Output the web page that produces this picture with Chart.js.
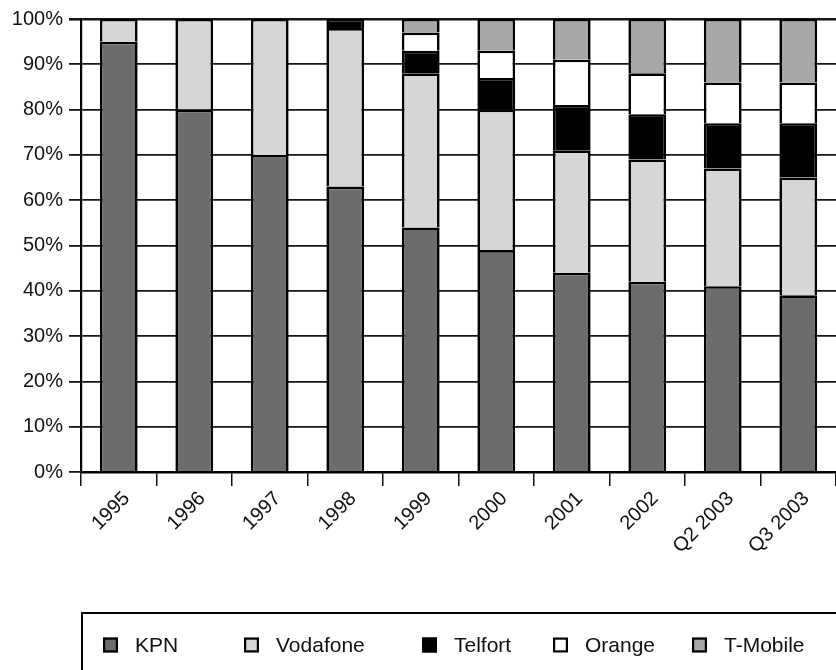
<!DOCTYPE html>
<html>
<head>
<meta charset="utf-8">
<script src="https://cdn.jsdelivr.net/npm/chart.js@4/dist/chart.umd.min.js"></script>
<style>
  html, body { margin: 0; padding: 0; background: #fff; }
  #wrap { width: 836px; height: 670px; position: relative; }
</style>
</head>
<body>
<div id="wrap"><canvas id="c" width="836" height="670"></canvas></div>
<script>
const categories = ['1995', '1996', '1997', '1998', '1999', '2000', '2001', '2002', 'Q2 2003', 'Q3 2003'];
const kpn      = [95, 80, 70, 63, 54, 49, 44, 42, 41, 39];
const vodafone = [5, 20, 30, 35, 34, 31, 27, 27, 26, 26];
const telfort  = [0, 0, 0, 2, 5, 7, 10, 10, 10, 12];
const orange   = [0, 0, 0, 0, 4, 6, 10, 9, 9, 9];
const tmobile  = [0, 0, 0, 0, 3, 7, 9, 12, 14, 14];
const yTicks   = [0, 10, 20, 30, 40, 50, 60, 70, 80, 90, 100];

const seriesNames  = ['KPN', 'Vodafone', 'Telfort', 'Orange', 'T-Mobile'];
const seriesColors = ['#6b6c6e', '#d5d6d8', '#000000', '#ffffff', '#a7a8aa'];
const seriesData   = [kpn, vodafone, telfort, orange, tmobile];

const FONT = "'Liberation Sans', Arial, Helvetica, sans-serif";

const legendPlugin = {
  id: 'boxLegend',
  afterDraw(chart) {
    const ctx = chart.ctx;
    const area = chart.chartArea;
    const boxTop = 613;
    // legend column starts, relative to the plot's left edge (layout style)
    const columns = [22, 163, 341, 472, 611];
    ctx.save();
    ctx.lineWidth = 2;
    ctx.strokeStyle = '#000';
    ctx.strokeRect(area.left + 1, boxTop, chart.width + 20, 120);
    ctx.font = '21px ' + FONT;
    ctx.textBaseline = 'middle';
    ctx.textAlign = 'left';
    const sq = 15, gapText = 17;
    const cy = 645;
    seriesNames.forEach((n, i) => {
      const x = area.left + columns[i];
      ctx.fillStyle = seriesColors[i];
      ctx.fillRect(x, cy - sq / 2, sq, sq);
      ctx.lineWidth = 2.2;
      ctx.strokeStyle = '#000';
      ctx.strokeRect(x + 1.1, cy - sq / 2 + 1.1, sq - 2.2, sq - 2.2);
      ctx.fillStyle = '#111';
      ctx.fillText(n, x + sq + gapText, cy + 1);
    });
    ctx.restore();
  }
};

new Chart(document.getElementById('c'), {
  type: 'bar',
  data: {
    labels: categories,
    datasets: seriesNames.map((n, i) => ({
      label: n,
      data: seriesData[i],
      backgroundColor: seriesColors[i],
      borderColor: '#000',
      borderWidth: 2.6,
      borderSkipped: 'start',
      barPercentage: 0.5,
      categoryPercentage: 1.0
    }))
  },
  options: {
    responsive: false,
    animation: false,
    layout: { padding: { top: 19, right: 0, bottom: 0, left: 0 } },
    plugins: { legend: { display: false }, tooltip: { enabled: false } },
    scales: {
      x: {
        stacked: true,
        offset: true,
        border: { display: true, color: '#000', width: 2.5 },
        grid: { display: true, drawOnChartArea: false, drawTicks: true, tickLength: 14, color: '#111', lineWidth: 1.5, offset: true },
        ticks: {
          color: '#111', font: { family: FONT, size: 20 },
          minRotation: 45, maxRotation: 45, autoSkip: false,
          labelOffset: 8, padding: 1
        },
        afterFit(scale) { scale.height = 198; }
      },
      y: {
        stacked: true,
        min: 0, max: 100,
        afterBuildTicks(scale) { scale.ticks = yTicks.map(v => ({ value: v })); },
        border: { display: true, color: '#000', width: 2.2 },
        grid: {
          color: '#161616',
          lineWidth: c => (c.tick && c.tick.value === 100) ? 2.6 : 1.8,
          drawTicks: true, tickLength: 12
        },
        ticks: {
          color: '#111', font: { family: FONT, size: 20 }, padding: 6,
          callback: v => v + '%'
        },
        afterFit(scale) { scale.width = 81; }
      }
    }
  },
  plugins: [legendPlugin]
});
</script>
</body>
</html>
